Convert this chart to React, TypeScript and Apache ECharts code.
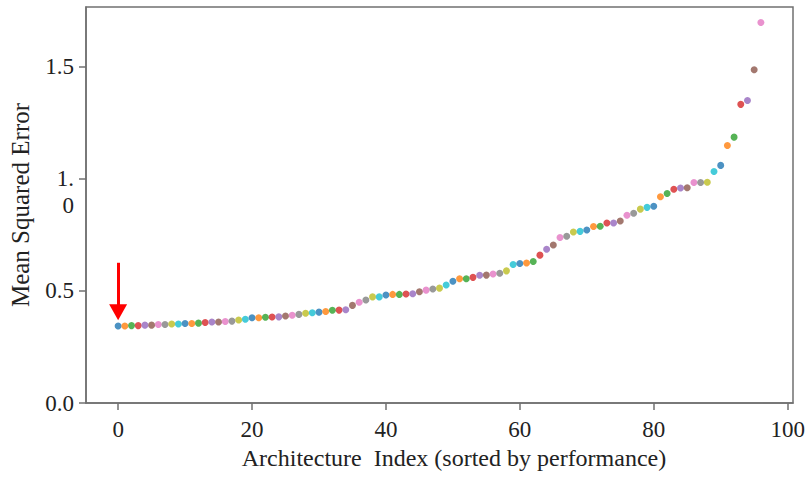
import React, { useEffect, useRef } from "react";
import * as echarts from "echarts";

// Sorted MSE per architecture (index = position in the sorted list)
const mseValues: number[] = [
  0.343, 0.343, 0.345, 0.345, 0.347, 0.347, 0.350, 0.350, 0.352, 0.352,
  0.354, 0.354, 0.356, 0.359, 0.361, 0.361, 0.363, 0.365, 0.370, 0.373,
  0.380, 0.380, 0.382, 0.383, 0.384, 0.388, 0.391, 0.395, 0.400, 0.402,
  0.405, 0.408, 0.413, 0.414, 0.416, 0.435, 0.449, 0.459, 0.473, 0.473,
  0.481, 0.484, 0.484, 0.486, 0.487, 0.496, 0.503, 0.508, 0.512, 0.526,
  0.543, 0.554, 0.554, 0.560, 0.569, 0.570, 0.575, 0.578, 0.589, 0.617,
  0.622, 0.624, 0.631, 0.659, 0.685, 0.704, 0.738, 0.743, 0.762, 0.765,
  0.771, 0.787, 0.788, 0.802, 0.802, 0.811, 0.837, 0.846, 0.864, 0.872,
  0.877, 0.919, 0.934, 0.953, 0.958, 0.959, 0.983, 0.983, 0.984, 1.032,
  1.059, 1.148, 1.185, 1.331, 1.348, 1.485, 1.696,
];

const palette: string[] = [
  "#1f77b4", "#ff7f0e", "#2ca02c", "#d62728", "#9467bd",
  "#8c564b", "#e377c2", "#7f7f7f", "#bcbd22", "#17becf",
];

const xTicks: number[] = [0, 20, 40, 60, 80, 100];
const yTicks: number[] = [0, 0.5, 1.0, 1.5];

// Arrow annotation pointing at the best architecture (index 0)
const arrowIndex = 0;
const arrowFrom = 0.625;
const arrowTo = 0.405;

const FONT = "'Liberation Serif', 'Times New Roman', serif";

export default function App() {
  const ref = useRef<HTMLDivElement>(null);

  useEffect(() => {
    if (!ref.current) return;
    const chart = echarts.init(ref.current, null, { renderer: "svg" });
    const data = mseValues.map((v, i) => ({
      value: [i, v],
      itemStyle: { color: palette[i % palette.length] },
    }));
    const axisColor = "#707070";
    chart.setOption({
      animation: false,
      backgroundColor: "#ffffff",
      grid: {
        left: 85,
        right: 19,
        top: 7,
        bottom: 74,
        show: true,
        borderColor: axisColor,
        borderWidth: 1.5,
      },
      xAxis: {
        type: "value",
        min: -4.8,
        max: 100.8,
        interval: 20,
        splitLine: { show: false },
        axisLine: { show: true, onZero: false, lineStyle: { color: axisColor, width: 1.5 } },
        axisTick: { show: true, length: 7, lineStyle: { color: axisColor, width: 1.5 }, customValues: xTicks },
        axisLabel: {
          customValues: xTicks,
          color: "#222",
          fontFamily: FONT,
          fontSize: 23,
          margin: 15,
          showMinLabel: true,
          showMaxLabel: true,
        },
        name: "Architecture  Index (sorted by performance)",
        nameLocation: "middle",
        nameGap: 41,
        nameTextStyle: { color: "#222", fontFamily: FONT, fontSize: 24, padding: [0, 0, 0, 29] },
      },
      yAxis: {
        type: "value",
        min: 0,
        max: 1.765,
        interval: 0.5,
        splitLine: { show: false },
        axisLine: { show: true, onZero: false, lineStyle: { color: axisColor, width: 1.5 } },
        axisTick: { show: true, length: 7, lineStyle: { color: axisColor, width: 1.5 }, customValues: yTicks },
        axisLabel: {
          customValues: yTicks,
          color: "#222",
          fontFamily: FONT,
          fontSize: 23,
          margin: 12,
          lineHeight: 27,
          formatter: (v: number) => (Math.abs(v - 1) < 1e-9 ? " \n1.\n0" : v.toFixed(1)),
        },
        name: "Mean Squared Error",
        nameLocation: "middle",
        nameGap: 53,
        nameTextStyle: { color: "#222", fontFamily: FONT, fontSize: 25 },
      },
      series: [
        {
          type: "scatter",
          symbol: "circle",
          symbolSize: 7,
          data,
          silent: true,
          markLine: {
            silent: true,
            symbol: ["none", "triangle"],
            symbolSize: [18, 16],
            label: { show: false },
            lineStyle: { color: "#ff0000", width: 3, type: "solid" },
            data: [[{ coord: [arrowIndex, arrowFrom] }, { coord: [arrowIndex, arrowTo] }]],
          },
        },
      ],
    });
    return () => chart.dispose();
  }, []);

  return <div ref={ref} style={{ width: 812, height: 477, position: "absolute", left: 0, top: 0 }} />;
}
